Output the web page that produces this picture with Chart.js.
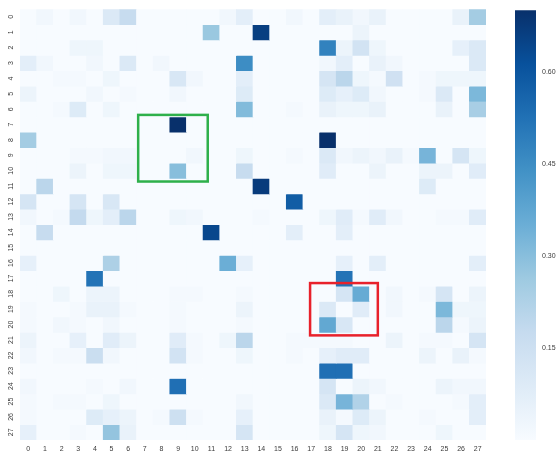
<!DOCTYPE html>
<html>
<head>
<meta charset="utf-8">
<script src="https://cdn.jsdelivr.net/npm/chart.js@4/dist/chart.umd.min.js"></script>
<style>
  html, body { margin: 0; padding: 0; background: #fff; }
  #wrap { position: relative; width: 558px; height: 459px; }
  #heat { position: absolute; left: 0; top: 0; }
  #bar { position: absolute; left: 500px; top: 0; }
</style>
</head>
<body>
<div id="wrap">
  <canvas id="heat" width="500" height="459"></canvas>
  <canvas id="bar" width="58" height="459"></canvas>
</div>
<script>
const cols = Array.from({length: 28}, (_, i) => String(i))
const rows = Array.from({length: 28}, (_, i) => String(i))
const vmin = 0
const vmax = 0.70
const colorbarTicks = [0.15, 0.30, 0.45, 0.60]

// one array per row, 28 values each
const r0  = [0,.02,0,.02,0,.10,.17,0,0,0,0,0,.02,.07,0,0,.02,0,.07,.05,.02,.05,0,0,0,0,.05,.25]
const r1  = [0,0,0,0,0,0,0,0,0,0,0,.27,0,0,.66,0,0,0,0,0,.04,0,0,0,0,0,0,0]
const r2  = [0,0,0,.03,.03,0,0,0,0,0,0,0,0,0,0,0,0,0,.48,.04,.13,.03,0,0,0,0,.06,.10]
const r3  = [.07,.02,0,0,.02,0,.10,0,.02,0,0,0,0,.45,0,0,0,0,.02,.07,0,.05,.02,0,0,0,0,.10]
const r4  = [0,0,.01,.01,0,.03,0,0,0,.11,.02,0,0,.07,0,0,0,0,.12,.20,.03,.01,.14,0,.01,.03,.03,.03]
const r5  = [.04,0,0,0,.02,0,.01,0,0,.02,0,0,0,.09,0,0,0,0,.09,.06,.09,.02,0,0,.01,.10,0,.32]
const r6  = [0,0,.01,.09,0,.03,0,0,0,0,0,0,0,.31,0,0,.01,0,.05,.03,.03,.05,0,0,0,.05,0,.24]
const r7  = [0,0,0,0,0,0,0,0,0,.70,0,0,0,0,0,0,0,0,0,0,0,0,0,0,0,0,0,0]
const r8  = [.25,0,0,0,0,0,0,0,0,0,0,0,0,0,0,0,0,0,.70,0,0,0,0,0,0,0,0,0]
const r9  = [0,0,0,.01,.01,.02,.02,0,0,0,.02,0,0,.03,0,0,.01,0,.10,.02,.04,.02,.05,.01,.33,0,.12,.03]
const r10 = [0,0,0,.04,0,.03,.03,0,0,.30,0,0,0,.17,0,0,0,0,.08,0,0,.04,0,0,.04,.04,0,.08]
const r11 = [0,.20,0,0,0,0,0,0,0,0,0,0,0,0,.67,0,0,0,0,0,0,0,0,0,.09,0,0,0]
const r12 = [.12,0,0,.12,0,.11,0,0,0,0,0,0,0,0,0,0,.58,0,0,0,0,0,0,0,0,0,0,0]
const r13 = [.02,0,.01,.18,.03,.07,.20,0,0,.03,.02,0,0,0,.01,0,0,0,.03,.08,.01,.08,.02,0,0,.01,.01,.08]
const r14 = [0,.17,0,0,0,0,0,0,0,0,0,.64,0,0,0,0,.07,0,0,.07,0,0,0,0,0,0,0,0]
const r15 = [0,0,0,0,0,0,0,0,0,0,0,0,0,0,0,0,0,0,0,0,0,0,0,0,0,0,0,0]
const r16 = [.06,0,0,0,0,.23,0,0,0,0,0,0,.35,.06,0,0,0,0,0,.06,0,.07,0,0,0,0,0,.07]
const r17 = [0,0,0,0,.52,0,0,0,0,0,0,0,0,0,0,0,0,0,0,.52,0,0,0,0,0,0,0,0]
const r18 = [0,0,.03,0,.04,.04,0,0,0,.01,.01,0,0,.01,0,0,0,0,0,.12,.36,0,.02,0,.01,.12,0,.04]
const r19 = [.01,0,0,.01,.05,.05,.01,0,0,.01,0,0,0,.04,0,0,0,0,.10,0,.08,0,.02,0,0,.32,.03,.03]
const r20 = [.01,0,.02,.01,0,.02,0,0,0,.01,0,0,0,.01,0,0,0,0,.37,.11,0,0,0,0,0,.20,.01,.04]
const r21 = [.04,0,0,.06,0,.08,.04,0,0,.08,.01,0,.03,.20,0,0,.01,.01,.01,.01,0,0,.04,0,.01,.01,0,.12]
const r22 = [.02,0,.01,.01,.16,.02,0,0,0,.13,.01,0,0,.03,0,0,.01,0,.06,.08,.08,0,0,0,.04,0,.05,.01]
const r23 = [0,0,0,0,0,0,0,0,0,0,0,0,0,0,0,0,0,0,.53,.53,0,0,0,0,0,0,0,0]
const r24 = [.02,0,0,0,.01,0,.02,0,0,.53,0,0,0,0,0,0,0,0,.12,0,.04,.02,0,0,0,.04,.02,.02]
const r25 = [.01,0,.01,.01,0,.03,0,0,0,0,0,0,0,.02,0,0,0,0,.10,.33,.22,0,.01,0,0,0,.01,.07]
const r26 = [.01,0,0,0,.09,.06,.04,0,.01,.15,.01,0,0,.06,0,0,0,0,.05,.01,.09,.04,0,0,.01,0,0,.07]
const r27 = [.06,0,0,.01,0,.28,.05,0,0,0,0,0,0,.12,0,0,0,0,.03,.12,.03,.02,0,0,0,.03,0,0]
const values = [r0,r1,r2,r3,r4,r5,r6,r7,r8,r9,r10,r11,r12,r13,r14,r15,r16,r17,r18,r19,r20,r21,r22,r23,r24,r25,r26,r27]

// highlight boxes, in cell-edge units
const boxes = [
    {x0: 7.1, x1: 11.28, y0: 6.87, y1: 11.2, color: '#2eb04b'},
    {x0: 17.43, x1: 21.5, y0: 17.8, y1: 21.2, color: '#e8212b'}
]

const blues = ['#f7fbff','#deebf7','#c6dbef','#9ecae1','#6baed6','#4292c6','#2171b5','#08519c','#08306b']

function hex(h) {
    return [1, 3, 5].map(i => parseInt(h.slice(i, i + 2), 16))
}
function blueAt(t) {
    t = Math.max(0, Math.min(1, t))
    const p = t * (blues.length - 1)
    const i = Math.min(Math.floor(p), blues.length - 2)
    const f = p - i
    const a = hex(blues[i]), b = hex(blues[i + 1])
    const c = a.map((v, k) => Math.round(v + (b[k] - v) * f))
    return 'rgb(' + c.join(',') + ')'
}

const font = {family: '"Liberation Sans", Arial, sans-serif', size: 7}
const tickColor = '#3a3a3a'

const boxPlugin = {
    id: 'boxes',
    afterDatasetsDraw(chart) {
        const ctx = chart.ctx
        const x = chart.scales.x, y = chart.scales.y
        ctx.save()
        boxes.forEach(b => {
            const left = x.getPixelForValue(b.x0 - 0.5)
            const right = x.getPixelForValue(b.x1 - 0.5)
            const top = y.getPixelForValue(b.y0)
            const bottom = y.getPixelForValue(b.y1)
            ctx.strokeStyle = b.color
            ctx.lineWidth = 2.5
            ctx.strokeRect(left, top, right - left, bottom - top)
        })
        ctx.restore()
    }
}

new Chart(document.getElementById('heat'), {
    type: 'bar',
    data: {
        labels: cols,
        datasets: values.map((row, r) => ({
            label: rows[r],
            data: row.map(() => [r, r + 1]),
            backgroundColor: row.map(v => blueAt((v - vmin) / (vmax - vmin))),
            borderWidth: 0,
            grouped: false,
            barPercentage: 1,
            categoryPercentage: 1
        }))
    },
    options: {
        responsive: false,
        devicePixelRatio: 1,
        animation: false,
        layout: {padding: {top: 5, right: 14, left: 0, bottom: 0}},
        plugins: {legend: {display: false}, tooltip: {enabled: false}},
        scales: {
            x: {
                grid: {display: false, drawTicks: false},
                border: {display: false},
                ticks: {font: font, color: tickColor, padding: 5, maxRotation: 0, autoSkip: false},
                afterFit: s => { s.height = 19 }
            },
            y: {
                min: 0,
                max: 28,
                reverse: true,
                grid: {display: false, drawTicks: false},
                border: {display: false},
                afterBuildTicks: s => { s.ticks = rows.map((_, i) => ({value: i + 0.5})) },
                ticks: {
                    font: font, color: tickColor, padding: 5,
                    minRotation: 90, maxRotation: 90, crossAlign: 'center',
                    callback: v => rows[Math.floor(v)]
                },
                afterFit: s => { s.width = 20 }
            }
        }
    },
    plugins: [boxPlugin]
})

new Chart(document.getElementById('bar'), {
    type: 'bar',
    data: {
        labels: [''],
        datasets: [{
            data: [[vmin, vmax]],
            backgroundColor: ctx => {
                const area = ctx.chart.chartArea
                if (!area) return blues[4]
                const g = ctx.chart.ctx.createLinearGradient(0, area.bottom, 0, area.top)
                blues.forEach((c, i) => g.addColorStop(i / (blues.length - 1), c))
                return g
            },
            borderWidth: 0,
            barPercentage: 1,
            categoryPercentage: 1
        }]
    },
    options: {
        responsive: false,
        devicePixelRatio: 1,
        animation: false,
        layout: {padding: {top: 5, right: 0, left: 15, bottom: 19}},
        plugins: {legend: {display: false}, tooltip: {enabled: false}},
        scales: {
            x: {display: false},
            y: {
                position: 'right',
                min: vmin,
                max: vmax,
                grid: {display: false, drawTicks: false},
                border: {display: false},
                afterBuildTicks: s => { s.ticks = colorbarTicks.map(v => ({value: v})) },
                ticks: {font: font, color: tickColor, padding: 6, callback: v => v.toFixed(2)},
                afterFit: s => { s.width = 22 }
            }
        }
    }
})
</script>
</body>
</html>
